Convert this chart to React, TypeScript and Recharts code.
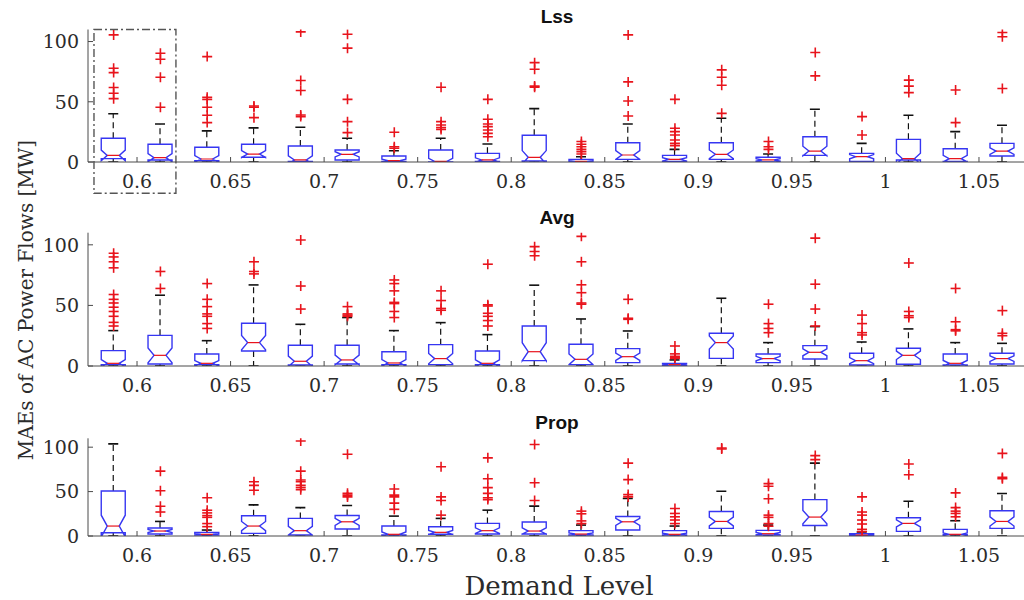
import React from 'react';
import { ComposedChart, Bar, Scatter, XAxis, YAxis, ReferenceArea } from 'recharts';

// ---------- data ----------
const levels = [0.6, 0.65, 0.7, 0.75, 0.8, 0.85, 0.9, 0.95, 1, 1.05];
const tickLabels = ['0.6', '0.65', '0.7', '0.75', '0.8', '0.85', '0.9', '0.95', '1', '1.05'];
const pairOffset = [-0.0125, 0.0125];
const yTicks = [0, 50, 100];
const whiskerLow = 0;
const notchFactor = 0.26;

// Lss
const lssQ1 = [2.8, 1.7, 1.0, 3.9, 0.5, 1.7, 0.5, 0.0, 0.5, 0.8, 0.0, 2.2, 0.5, 2.2, 0.0, 5.5, 0.5, 1.7, 0.5, 5.0];
const lssMed = [5.5, 3.6, 2.5, 6.6, 1.7, 6.4, 1.1, 0.5, 1.7, 3.9, 0.5, 5.8, 2.2, 6.4, 1.7, 9.1, 4.4, 2.8, 2.8, 9.1];
const lssQ3 = [19.7, 14.7, 12.2, 14.7, 13.3, 10, 5, 10, 7.2, 22.2, 2.2, 16, 5.5, 16, 3.9, 21, 7.2, 18.8, 11, 15.5];
const lssHi = [40, 31.6, 25.8, 28.3, 28.8, 19.7, 9.4, 19.7, 15, 44.3, 4.4, 31.6, 10.5, 36.3, 6.6, 43.8, 15.5, 38.8, 25.2, 30.5];
const lssOut = [
  [105.5, 77.8, 74.2, 61.8, 57.1, 52.6],
  [90.3, 85.3, 70.4, 45.4],
  [87.5, 53.7, 52, 45.4, 38.8, 32.7],
  [46.5, 45.4, 36.8],
  [108, 67.6, 59.3, 39, 37.7],
  [106, 94.5, 52, 33.5, 24.4],
  [24.7, 12.7, 11.4],
  [62, 33.5, 30.7, 28.5, 27],
  [52, 35.5, 31.6, 29.4, 26.6, 23.8, 21],
  [82.5, 77, 63, 62],
  [17, 14.7, 12.7, 10.5, 8.6, 6.6],
  [105.5, 66.5, 50.7, 38.2],
  [52, 28, 25.2, 22.4, 18.3, 15.5, 13.6],
  [76.5, 70.4, 63.7, 40.4],
  [17, 12.7, 10.5],
  [90.9, 71.5],
  [37.7, 22.4],
  [68, 63, 57.6],
  [59.8, 32.7],
  [107.5, 104, 61],
];

// Avg
const avgQ1 = [1.1, 1.7, 1.1, 12.4, 0.8, 1.7, 1.1, 1.1, 1.1, 4.4, 1.1, 2.8, 0, 6.3, 2.8, 5.8, 0.8, 1.4, 0.8, 1.7];
const avgMed = [2.2, 8.8, 2.2, 19.3, 3.9, 5.0, 2.5, 6.1, 2.2, 11.8, 5.5, 7.7, 1.1, 19.3, 6.1, 11.3, 4.4, 8.8, 2.2, 6.1];
const avgQ3 = [12.7, 25.3, 9.9, 35.3, 17.1, 17.1, 11.8, 17.6, 12.4, 33, 17.9, 14.3, 2.2, 27, 9.9, 16.8, 10.5, 14.6, 9.9, 10.5];
const avgHi = [29.2, 58.4, 20.9, 66.9, 34.4, 40, 29.2, 35.8, 25.9, 66.7, 38.8, 28.9, 5, 55.9, 19.3, 32.5, 19.8, 30.6, 19.3, 18.7];
const avgOut = [
  [93, 90, 86, 81, 59, 55, 52, 48.5, 45, 41, 36, 33],
  [78, 64],
  [68, 55, 49, 43, 41, 35, 31],
  [86, 78, 76],
  [104, 66, 47],
  [49, 43, 42, 41],
  [71, 68, 62, 52.5, 51.5, 45, 40],
  [62, 54, 47.5, 46],
  [84, 50.5, 49.5, 43.5, 41, 37.5, 33],
  [98.5, 94.5, 91],
  [107, 86, 67, 60.5, 52, 51],
  [55, 39.4, 38.5],
  [16.5, 10, 8, 7, 6.3],
  [],
  [51, 35, 31, 27.5],
  [105.5, 67.5, 47, 33],
  [42, 35, 27.5, 25.6],
  [85, 45, 41.5, 40],
  [64, 36.5, 30, 29],
  [45.7, 27, 25],
];

// Prop
const propQ1 = [3.7, 2.2, 1.1, 3.0, 1.1, 7.8, 1.1, 1.9, 2.2, 2.2, 1.1, 6.7, 1.1, 8.6, 1.1, 11.9, 0.4, 5.2, 1.5, 8.6];
const propMed = [11.2, 5.6, 1.9, 11.2, 6.0, 16, 1.9, 4.1, 6.0, 5.6, 2.2, 16, 1.9, 16.4, 2.6, 21.3, 1.1, 14.2, 1.9, 16.4];
const propQ3 = [50.7, 9, 4.1, 22.8, 19.8, 23.1, 11.2, 10.4, 14.2, 15.7, 6, 22, 6, 27.6, 6.3, 41, 2.6, 20.5, 7.5, 28.4];
const propHi = [103.7, 16.4, 6.7, 35, 32, 34.3, 22.4, 19.8, 29.1, 33.6, 12.3, 42.2, 11.2, 50.4, 12.3, 82, 4.5, 39.2, 17.2, 47.8];
const propOut = [
  [],
  [73, 51, 33.5, 27],
  [43, 29, 26, 23, 21, 14, 10.5],
  [61, 57, 51.5],
  [107, 73, 63, 61, 57, 54.5, 52],
  [92, 48, 46, 44],
  [53, 46, 44, 37, 30],
  [78, 44, 40, 23.5],
  [88, 64.5, 54.5, 48, 43, 41],
  [103, 60, 40],
  [28, 25, 17, 14],
  [82, 63.5, 46.6, 44],
  [31, 25.4, 21.6, 18, 14],
  [99, 98],
  [59, 56, 42, 23.5, 21, 14, 11],
  [90.5, 86],
  [44, 27, 23.5, 18, 13.5, 7.5, 5],
  [81, 69],
  [48.5, 32, 28, 25.4, 21.6],
  [93, 66, 64.5],
];

// highlight box around the 0.6 pair in the Lss panel
const highlightX = [0.577, 0.6208];
const highlightY = [-26, 110];

// ---------- styles ----------
const xDomain = [0.5738, 1.0762];
const yDomain = [0, 110];
const BOX_W = 24;
const CAP_W = 10;
const BLUE = '#3636f2';
const RED = '#e8141c';
const FRAME = '#4a4a4a';
const TEXT = '#2b2b2b';
const SERIF = '"DejaVu Serif", serif';
const X_TICK_MARGIN = 13;
const Y_TICK_MARGIN = 9;

const xPos = (i: number) => levels[Math.floor(i / 2)] + pairOffset[i % 2];

function buildBoxes(q1: number[], med: number[], q3: number[], hi: number[]) {
  return q1.map((_, i) => ({
    x: xPos(i),
    range: [whiskerLow, hi[i]],
    lo: whiskerLow,
    q1: q1[i],
    med: med[i],
    q3: q3[i],
    hi: hi[i],
  }));
}

function buildOutliers(out: number[][]) {
  const pts: { x: number; y: number }[] = [];
  out.forEach((vals, i) => vals.forEach((v) => pts.push({ x: xPos(i), y: v })));
  return pts;
}

const BoxShape = (props: any) => {
  const { x, y, width, height, payload } = props;
  if (payload == null || !isFinite(y) || !isFinite(height)) return <g />;
  const { lo, q1, med, q3, hi } = payload;
  const py = (v: number) => y + (height * (hi - v)) / (hi - lo);
  const cx = x + width / 2;
  const l = cx - BOX_W / 2;
  const r = cx + BOX_W / 2;
  const inset = BOX_W / 4;
  const iqr = q3 - q1;
  const nHi = med + notchFactor * iqr;
  const nLo = med - notchFactor * iqr;
  const pts = [
    [l, py(q3)],
    [r, py(q3)],
    [r, py(nHi)],
    [r - inset, py(med)],
    [r, py(nLo)],
    [r, py(q1)],
    [l, py(q1)],
    [l, py(nLo)],
    [l + inset, py(med)],
    [l, py(nHi)],
  ]
    .map((p) => `${p[0]},${p[1]}`)
    .join(' ');
  return (
    <g>
      <line x1={cx} x2={cx} y1={py(q3)} y2={py(hi)} stroke="#111" strokeWidth={1.2} strokeDasharray="6 4" />
      <line x1={cx} x2={cx} y1={py(q1)} y2={py(lo)} stroke="#111" strokeWidth={1.2} strokeDasharray="6 4" />
      <line x1={cx - CAP_W / 2} x2={cx + CAP_W / 2} y1={py(hi)} y2={py(hi)} stroke="#111" strokeWidth={1.6} />
      <line x1={cx - CAP_W / 2} x2={cx + CAP_W / 2} y1={py(lo)} y2={py(lo)} stroke="#111" strokeWidth={1.6} />
      <polygon points={pts} fill="#fff" stroke={BLUE} strokeWidth={1.4} />
      <line x1={l + inset} x2={r - inset} y1={py(med)} y2={py(med)} stroke={RED} strokeWidth={1.2} />
    </g>
  );
};

const PlusShape = (props: any) => {
  const { cx, cy } = props;
  if (!isFinite(cx) || !isFinite(cy)) return <g />;
  const s = 5;
  return (
    <g stroke={RED} strokeWidth={1.6}>
      <line x1={cx - s} x2={cx + s} y1={cy} y2={cy} />
      <line x1={cx} x2={cx} y1={cy - s} y2={cy + s} />
    </g>
  );
};

const BottomTick = (props: any) => {
  const { x, y, payload } = props;
  const idx = levels.findIndex((v) => Math.abs(v - payload.value) < 1e-9);
  const ay = y - X_TICK_MARGIN;
  return (
    <g>
      <line x1={x} x2={x} y1={ay} y2={ay - 5} stroke={FRAME} strokeWidth={1} />
      <text x={x} y={y} dy="0.71em" textAnchor="middle" fontFamily={SERIF} fontSize={19} fill={TEXT}>
        {idx >= 0 ? tickLabels[idx] : ''}
      </text>
    </g>
  );
};

const TopTick = (props: any) => {
  const { x, y } = props;
  return <line x1={x} x2={x} y1={y} y2={y + 5} stroke={FRAME} strokeWidth={1} />;
};

const LeftTick = (props: any) => {
  const { x, y, payload } = props;
  const ax = x + Y_TICK_MARGIN;
  return (
    <g>
      <line x1={ax} x2={ax + 5} y1={y} y2={y} stroke={FRAME} strokeWidth={1} />
      <text x={x} y={y} dy="0.36em" textAnchor="end" fontFamily={SERIF} fontSize={19} fill={TEXT}>
        {payload.value}
      </text>
    </g>
  );
};

type PanelProps = {
  top: number;
  marginTop: number;
  plotH: number;
  boxes: any[];
  outliers: any[];
  highlight?: boolean;
};

const CHART_W = 1028;
const AXIS_H = 40;

const Panel = ({ top, marginTop, plotH, boxes, outliers, highlight }: PanelProps) => (
  <div style={{ position: 'absolute', left: 0, top }}>
    <ComposedChart
      width={CHART_W}
      height={marginTop + plotH + AXIS_H}
      data={boxes}
      margin={{ top: marginTop, right: 0, bottom: 0, left: 0 }}
    >
      <XAxis
        dataKey="x"
        type="number"
        domain={xDomain}
        ticks={levels}
        interval={0}
        allowDataOverflow
        height={AXIS_H}
        tickSize={0}
        tickMargin={X_TICK_MARGIN}
        tick={BottomTick}
        axisLine={{ stroke: FRAME, strokeWidth: 1 }}
      />
      <XAxis
        xAxisId="top"
        orientation="top"
        dataKey="x"
        type="number"
        domain={xDomain}
        ticks={levels}
        interval={0}
        allowDataOverflow
        height={0}
        tickSize={0}
        tickMargin={0}
        tick={TopTick}
        axisLine={{ stroke: FRAME, strokeWidth: 1 }}
      />
      <YAxis
        type="number"
        domain={yDomain}
        ticks={yTicks}
        interval={0}
        allowDataOverflow
        width={88}
        tickSize={0}
        tickMargin={Y_TICK_MARGIN}
        tick={LeftTick}
        axisLine={{ stroke: FRAME, strokeWidth: 1 }}
      />
      <Bar dataKey="range" barSize={BOX_W} shape={BoxShape} isAnimationActive={false} />
      <Scatter data={outliers} dataKey="y" shape={PlusShape} isAnimationActive={false} />
      {highlight && (
        <ReferenceArea
          x1={highlightX[0]}
          x2={highlightX[1]}
          y1={highlightY[0]}
          y2={highlightY[1]}
          ifOverflow="visible"
          fill="none"
          fillOpacity={0}
          stroke="#555"
          strokeWidth={1.4}
          strokeDasharray="8 3 2 3"
        />
      )}
    </ComposedChart>
  </div>
);

const lssBoxes = buildBoxes(lssQ1, lssMed, lssQ3, lssHi);
const avgBoxes = buildBoxes(avgQ1, avgMed, avgQ3, avgHi);
const propBoxes = buildBoxes(propQ1, propMed, propQ3, propHi);

export default function App() {
  return (
    <div
      style={{
        position: 'absolute',
        left: 0,
        top: 0,
        width: 1024,
        height: 600,
        overflow: 'hidden',
        background: '#fff',
      }}
    >
      <Panel top={0} marginTop={29.5} plotH={132.5} boxes={lssBoxes} outliers={buildOutliers(lssOut)} highlight />
      <Panel top={200} marginTop={32.7} plotH={133.3} boxes={avgBoxes} outliers={buildOutliers(avgOut)} />
      <Panel top={400} marginTop={38.3} plotH={97.7} boxes={propBoxes} outliers={buildOutliers(propOut)} />
      <svg
        width={1024}
        height={600}
        style={{ position: 'absolute', left: 0, top: 0, pointerEvents: 'none' }}
      >
        <g fontFamily='"Liberation Sans", Arial, sans-serif' fontWeight="bold" fontSize={19} fill="#111" textAnchor="middle">
          <text x={557} y={23}>Lss</text>
          <text x={557} y={224}>Avg</text>
          <text x={557} y={429}>Prop</text>
        </g>
        <text
          transform="translate(33,300) rotate(-90)"
          textAnchor="middle"
          fontFamily={SERIF}
          fontSize={20}
          fill={TEXT}
        >
          MAEs of AC Power Flows [MW]
        </text>
        <text x={559} y={595} textAnchor="middle" fontFamily={SERIF} fontSize={26} fill={TEXT}>
          Demand Level
        </text>
      </svg>
    </div>
  );
}
